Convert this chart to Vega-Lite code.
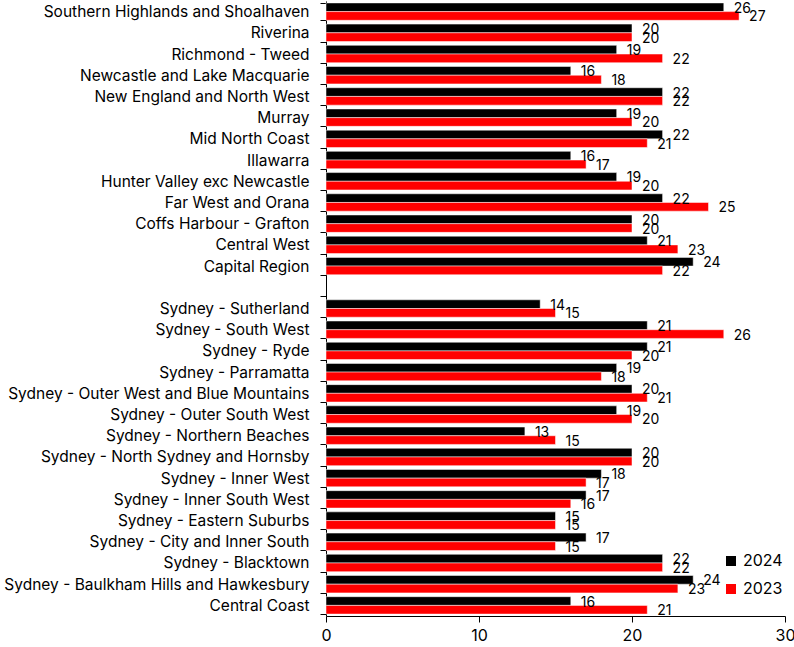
{
  "$schema": "https://vega.github.io/schema/vega-lite/v6.json",
  "width": 459,
  "height": 615,
  "autosize": {"type": "none"},
  "padding": {"left": 326, "top": 1, "right": 9, "bottom": 31},
  "background": "white",
  "config": {
    "font": "Inter",
    "view": {"stroke": null},
    "axis": {"grid": false, "domainColor": "#000000", "tickColor": "#000000", "labelColor": "#000000", "labelFont": "Inter"}
  },
  "data": {
    "values": [
      {"region": "Southern Highlands and Shoalhaven", "year": "2024", "value": 26},
      {"region": "Southern Highlands and Shoalhaven", "year": "2023", "value": 27},
      {"region": "Riverina", "year": "2024", "value": 20},
      {"region": "Riverina", "year": "2023", "value": 20},
      {"region": "Richmond - Tweed", "year": "2024", "value": 19},
      {"region": "Richmond - Tweed", "year": "2023", "value": 22},
      {"region": "Newcastle and Lake Macquarie", "year": "2024", "value": 16},
      {"region": "Newcastle and Lake Macquarie", "year": "2023", "value": 18},
      {"region": "New England and North West", "year": "2024", "value": 22},
      {"region": "New England and North West", "year": "2023", "value": 22},
      {"region": "Murray", "year": "2024", "value": 19},
      {"region": "Murray", "year": "2023", "value": 20},
      {"region": "Mid North Coast", "year": "2024", "value": 22},
      {"region": "Mid North Coast", "year": "2023", "value": 21},
      {"region": "Illawarra", "year": "2024", "value": 16},
      {"region": "Illawarra", "year": "2023", "value": 17},
      {"region": "Hunter Valley exc Newcastle", "year": "2024", "value": 19},
      {"region": "Hunter Valley exc Newcastle", "year": "2023", "value": 20},
      {"region": "Far West and Orana", "year": "2024", "value": 22},
      {"region": "Far West and Orana", "year": "2023", "value": 25},
      {"region": "Coffs Harbour - Grafton", "year": "2024", "value": 20},
      {"region": "Coffs Harbour - Grafton", "year": "2023", "value": 20},
      {"region": "Central West", "year": "2024", "value": 21},
      {"region": "Central West", "year": "2023", "value": 23},
      {"region": "Capital Region", "year": "2024", "value": 24},
      {"region": "Capital Region", "year": "2023", "value": 22},
      {"region": "Sydney - Sutherland", "year": "2024", "value": 14},
      {"region": "Sydney - Sutherland", "year": "2023", "value": 15},
      {"region": "Sydney - South West", "year": "2024", "value": 21},
      {"region": "Sydney - South West", "year": "2023", "value": 26},
      {"region": "Sydney - Ryde", "year": "2024", "value": 21},
      {"region": "Sydney - Ryde", "year": "2023", "value": 20},
      {"region": "Sydney - Parramatta", "year": "2024", "value": 19},
      {"region": "Sydney - Parramatta", "year": "2023", "value": 18},
      {"region": "Sydney - Outer West and Blue Mountains", "year": "2024", "value": 20},
      {"region": "Sydney - Outer West and Blue Mountains", "year": "2023", "value": 21},
      {"region": "Sydney - Outer South West", "year": "2024", "value": 19},
      {"region": "Sydney - Outer South West", "year": "2023", "value": 20},
      {"region": "Sydney - Northern Beaches", "year": "2024", "value": 13},
      {"region": "Sydney - Northern Beaches", "year": "2023", "value": 15},
      {"region": "Sydney - North Sydney and Hornsby", "year": "2024", "value": 20},
      {"region": "Sydney - North Sydney and Hornsby", "year": "2023", "value": 20},
      {"region": "Sydney - Inner West", "year": "2024", "value": 18},
      {"region": "Sydney - Inner West", "year": "2023", "value": 17},
      {"region": "Sydney - Inner South West", "year": "2024", "value": 17},
      {"region": "Sydney - Inner South West", "year": "2023", "value": 16},
      {"region": "Sydney - Eastern Suburbs", "year": "2024", "value": 15},
      {"region": "Sydney - Eastern Suburbs", "year": "2023", "value": 15},
      {"region": "Sydney - City and Inner South", "year": "2024", "value": 17},
      {"region": "Sydney - City and Inner South", "year": "2023", "value": 15},
      {"region": "Sydney - Blacktown", "year": "2024", "value": 22},
      {"region": "Sydney - Blacktown", "year": "2023", "value": 22},
      {"region": "Sydney - Baulkham Hills and Hawkesbury", "year": "2024", "value": 24},
      {"region": "Sydney - Baulkham Hills and Hawkesbury", "year": "2023", "value": 23},
      {"region": "Central Coast", "year": "2024", "value": 16},
      {"region": "Central Coast", "year": "2023", "value": 21}
    ]
  },
  "encoding": {
    "y": {
      "field": "region",
      "type": "nominal",
      "title": null,
      "scale": {
        "domain": ["Southern Highlands and Shoalhaven", "Riverina", "Richmond - Tweed", "Newcastle and Lake Macquarie", "New England and North West", "Murray", "Mid North Coast", "Illawarra", "Hunter Valley exc Newcastle", "Far West and Orana", "Coffs Harbour - Grafton", "Central West", "Capital Region", " ", "Sydney - Sutherland", "Sydney - South West", "Sydney - Ryde", "Sydney - Parramatta", "Sydney - Outer West and Blue Mountains", "Sydney - Outer South West", "Sydney - Northern Beaches", "Sydney - North Sydney and Hornsby", "Sydney - Inner West", "Sydney - Inner South West", "Sydney - Eastern Suburbs", "Sydney - City and Inner South", "Sydney - Blacktown", "Sydney - Baulkham Hills and Hawkesbury", "Central Coast"],
        "paddingInner": 0.18,
        "paddingOuter": 0.09
      },
      "axis": {"tickBand": "extent", "tickSize": 6, "labelPadding": 11, "labelFontSize": 15.5, "labelLimit": 330, "domainWidth": 1, "tickWidth": 1}
    },
    "yOffset": {"field": "year", "type": "nominal", "sort": ["2024", "2023"], "scale": {"paddingInner": 0}},
    "x": {
      "field": "value",
      "type": "quantitative",
      "title": null,
      "scale": {"domain": [0, 30]},
      "axis": {"values": [0, 10, 20, 30], "tickSize": 6, "labelFontSize": 16, "labelPadding": 5, "labelFlush": false}
    }
  },
  "layer": [
    {
      "mark": {"type": "bar", "stroke": "#ffffff", "strokeWidth": 0.5},
      "encoding": {
        "color": {
          "field": "year",
          "type": "nominal",
          "sort": ["2024", "2023"],
          "scale": {"domain": ["2024", "2023"], "range": ["#000000", "#ff0000"]},
          "legend": {
            "title": null,
            "orient": "none",
            "legendX": 397,
            "legendY": 552,
            "symbolType": "square",
            "symbolSize": 100,
            "symbolStrokeWidth": 0,
            "labelFontSize": 16,
            "labelColor": "#000000",
            "rowPadding": 12,
            "labelOffset": 4
          }
        }
      }
    },
    {
      "mark": {"type": "text", "align": "left", "baseline": "middle", "dx": 10, "dy": 1.5, "fontSize": 14, "color": "#000000"},
      "encoding": {"text": {"field": "value", "type": "quantitative"}}
    }
  ]
}
